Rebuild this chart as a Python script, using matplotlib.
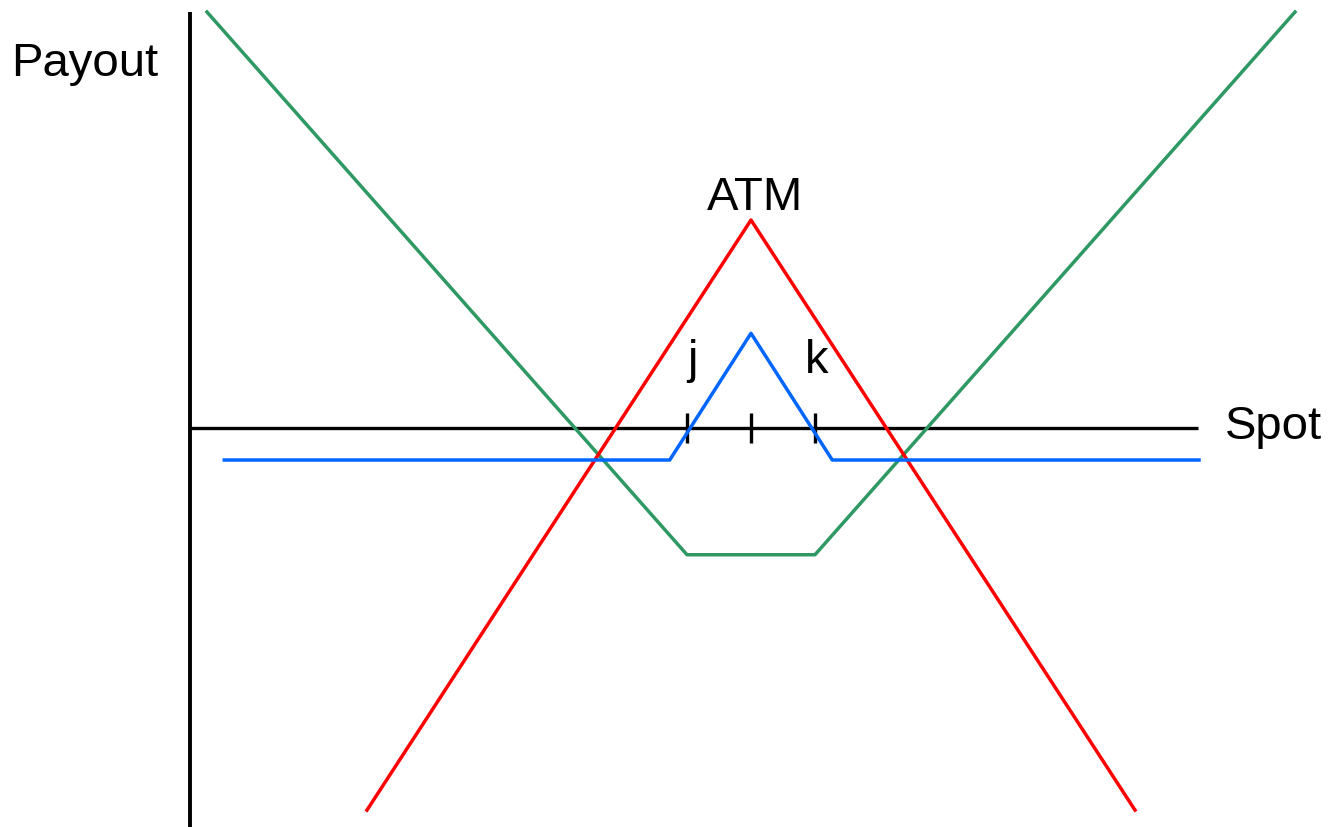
import matplotlib.pyplot as plt

# payoff diagram data (spot relative to ATM strike, payout in same units)
red_spot = [-6.0, 0.0, 6.0]
red_payout = [-5.97, 3.25, -5.97]

green_spot = [-8.5, -1.0, 1.0, 8.5]
green_payout = [6.5, -1.98, -1.98, 6.5]

blue_spot = [-8.23, -1.27, 0.0, 1.27, 7.0]
blue_payout = [-0.5, -0.5, 1.48, -0.5, -0.5]

tick_spots = [-1.0, 0.0, 1.0]
tick_labels = ['j', 'ATM', 'k']

plt.rcParams['font.family'] = ['Liberation Sans', 'DejaVu Sans']

fig = plt.figure(figsize=(13.31, 8.27), dpi=100)
ax = fig.add_axes([0, 0, 1, 1])
ax.set_xlim(-11.734, 9.0625)
ax.set_ylim(-6.234, 6.6875)
ax.axis('off')

# axes
ax.plot([-8.77, 6.98], [0, 0], color='black', lw=2.4, solid_capstyle='butt')
ax.plot([-8.77, -8.77], [6.5, -6.3], color='black', lw=2.8, solid_capstyle='butt')
for s in tick_spots:
    ax.plot([s, s], [-0.24, 0.24], color='black', lw=2.4, solid_capstyle='butt')

ax.plot(green_spot, green_payout, color='#2E9963', lw=2.5)
ax.plot(red_spot, red_payout, color='#FF0000', lw=2.5)
ax.plot(blue_spot, blue_payout, color='#0066FF', lw=2.5)

fs = 34
ax.text(-10.41, 5.68, 'Payout', fontsize=fs, ha='center', va='center')
ax.text(8.17, 0.02, 'Spot', fontsize=fs, ha='center', va='center')
ax.text(0.06, 3.6, tick_labels[1], fontsize=fs, ha='center', va='center')
ax.text(-0.92, 1.05, tick_labels[0], fontsize=fs, ha='center', va='center')
ax.text(1.02, 1.05, tick_labels[2], fontsize=fs, ha='center', va='center')

plt.savefig('out.png', dpi=100)
